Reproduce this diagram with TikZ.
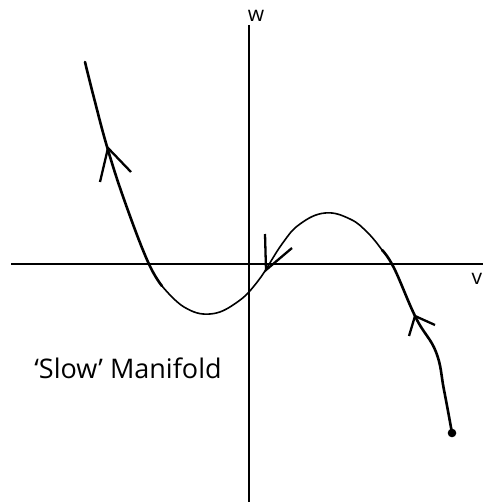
\documentclass[tikz,border=0pt]{standalone}
\usepackage{fontspec}
\setmainfont{Open Sans}
\begin{document}
\begin{tikzpicture}[x=1pt,y=-1pt,
  axis/.style={line width=1.3pt},
  branch/.style={line width=2.6pt,line cap=round},
  mid/.style={line width=1.6pt},
  headline/.style={line width=2.3pt,line cap=butt},
  lbl/.style={inner sep=0pt,font=\fontsize{21}{23}\selectfont}]
\useasboundingbox (0,0) rectangle (483,502);
% axes
\coordinate (xl) at (11,264);
\coordinate (xr) at (483,264);
\coordinate (yt) at (249,25);
\coordinate (yb) at (249,502);
\draw[axis] (xl) -- (xr);
\draw[axis] (yt) -- (yb);
\node[lbl] (w) at (256,16) {w};
\node[lbl] (v) at (477,279) {v};
% curve
\draw[branch] plot[smooth,tension=0.7] coordinates {(85,62) (94,98) (108,150) (126,205) (148,262) (162,286)};
\draw[mid] plot[smooth,tension=0.7] coordinates {(162,286) (184,307) (210,314) (236,303) (258,281) (282,244) (300,224) (325,213) (350,219) (368,233) (382,250)};
\draw[branch] plot[smooth,tension=0.7] coordinates {(382,250) (394,268) (416,318) (436,352) (444,390) (452,433)};
\fill (452,433) circle (4.3);
% arrowheads
\coordinate (a1) at (108,148);
\draw[headline] (100,182) -- (a1) -- (131,172);
\coordinate (a2) at (266,270);
\draw[headline] (265,234) -- (a2) -- (292,248);
\coordinate (a3) at (415,316);
\draw[headline] (409,336) -- (a3) -- (435,325);
% text
\node[inner sep=0pt,font=\fontsize{27}{30}\selectfont] (t) at (128,368) {‘Slow’ Manifold};
\end{tikzpicture}
\end{document}
